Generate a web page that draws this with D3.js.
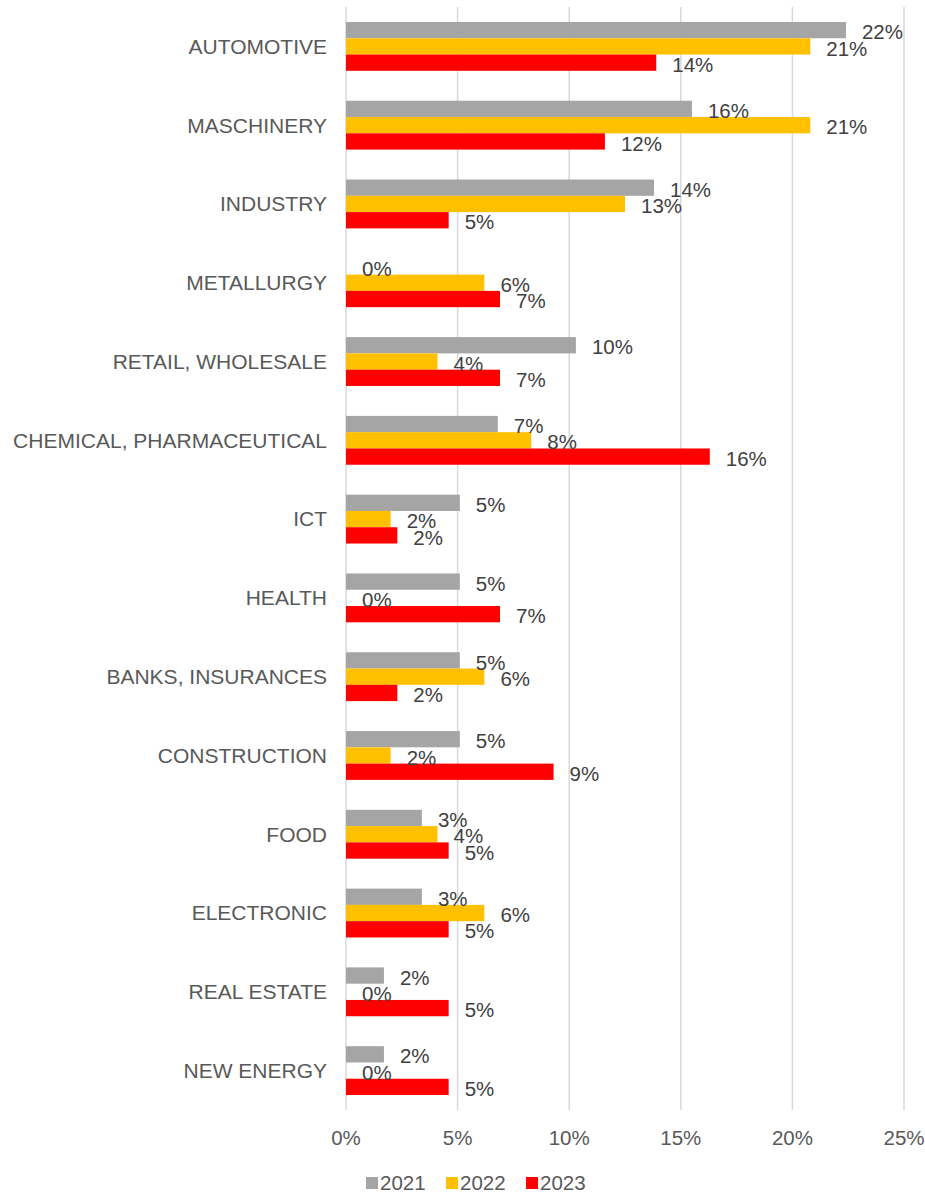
<!DOCTYPE html>
<meta charset="utf-8">
<style>
body { margin: 0; background: #fff; }
svg { font-family: Arial, "Liberation Sans", sans-serif; }
.grid line { stroke: #d9d9d9; stroke-width: 1.5; }
.cat { fill: #595959; font-size: 21px; }
.tick-lbl { fill: #595959; font-size: 20.5px; }
.val { fill: #404040; font-size: 20.5px; }
.legend text { fill: #595959; font-size: 20.5px; }
</style>
<svg width="925" height="1195" class="top"></svg>
<script src="https://cdnjs.cloudflare.com/ajax/libs/d3/7.8.5/d3.min.js"></script>
<script>

var categories = ["AUTOMOTIVE", "MASCHINERY", "INDUSTRY", "METALLURGY", "RETAIL, WHOLESALE",
  "CHEMICAL, PHARMACEUTICAL", "ICT", "HEALTH", "BANKS, INSURANCES", "CONSTRUCTION",
  "FOOD", "ELECTRONIC", "REAL ESTATE", "NEW ENERGY"];
var years = ["2021", "2022", "2023"];
var colors = ["#a5a5a5", "#ffc000", "#ff0000"];
var v2021 = [22.4, 15.5, 13.8, 0, 10.3, 6.8, 5.1, 5.1, 5.1, 5.1, 3.4, 3.4, 1.7, 1.7];
var v2022 = [20.8, 20.8, 12.5, 6.2, 4.1, 8.3, 2.0, 0, 6.2, 2.0, 4.1, 6.2, 0, 0];
var v2023 = [13.9, 11.6, 4.6, 6.9, 6.9, 16.3, 2.3, 6.9, 2.3, 9.3, 4.6, 4.6, 4.6, 4.6];
var xTicks = [0, 5, 10, 15, 20, 25];

var series = [v2021, v2022, v2023];

var svg = d3.select(".top"),
    margin = {top: 7, right: 21, bottom: 85, left: 346},
    width = +svg.attr("width") - margin.left - margin.right,
    height = +svg.attr("height") - margin.top - margin.bottom,
    g = svg.append("g").attr("transform", "translate(" + margin.left + "," + margin.top + ")");

var x = d3.scaleLinear().domain([0, 25]).range([0, width]);

var y = d3.scaleBand()
    .domain(categories)
    .range([0, height])
    .paddingInner(0.38)
    .paddingOuter(0.19);

var y1 = d3.scaleBand().domain(years).range([0, y.bandwidth()]);

// gridlines
g.append("g").attr("class", "grid")
  .selectAll("line")
  .data(xTicks)
  .enter().append("line")
    .attr("x1", function(d) { return x(d); })
    .attr("x2", function(d) { return x(d); })
    .attr("y1", 0)
    .attr("y2", height);

// bars
var rows = [];
categories.forEach(function(c, i) {
  years.forEach(function(yr, j) {
    rows.push({cat: c, year: yr, idx: j, value: series[j][i]});
  });
});

g.selectAll(".bar")
  .data(rows)
  .enter().append("rect")
    .attr("class", "bar")
    .attr("x", x(0))
    .attr("y", function(d) { return y(d.cat) + y1(d.year); })
    .attr("width", function(d) { return x(d.value) - x(0); })
    .attr("height", y1.bandwidth())
    .attr("fill", function(d) { return colors[d.idx]; });

g.selectAll(".val")
  .data(rows)
  .enter().append("text")
    .attr("class", "val")
    .attr("x", function(d) { return x(d.value) + 16; })
    .attr("y", function(d) { return y(d.cat) + y1(d.year) + y1.bandwidth() / 2 + 2; })
    .attr("dy", "0.35em")
    .text(function(d) { return Math.round(d.value) + "%"; });

// category labels
g.selectAll(".cat")
  .data(categories)
  .enter().append("text")
    .attr("class", "cat")
    .attr("x", -19)
    .attr("y", function(d) { return y(d) + y.bandwidth() / 2; })
    .attr("dy", "0.35em")
    .attr("text-anchor", "end")
    .text(function(d) { return d; });

// x tick labels
g.selectAll(".tick-lbl")
  .data(xTicks)
  .enter().append("text")
    .attr("class", "tick-lbl")
    .attr("x", function(d) { return x(d); })
    .attr("y", height + 28)
    .attr("dy", "0.35em")
    .attr("text-anchor", "middle")
    .text(function(d) { return d + "%"; });

// legend
var legend = svg.append("g").attr("class", "legend")
  .attr("transform", "translate(366,1183)");

var item = legend.selectAll("g")
  .data(years)
  .enter().append("g")
    .attr("transform", function(d, i) { return "translate(" + (i * 80) + ",0)"; });

item.append("rect")
    .attr("x", 0)
    .attr("y", -6)
    .attr("width", 12)
    .attr("height", 12)
    .attr("fill", function(d, i) { return colors[i]; });

item.append("text")
    .attr("x", 14)
    .attr("y", 0)
    .attr("dy", "0.35em")
    .text(function(d) { return d; });

</script>
